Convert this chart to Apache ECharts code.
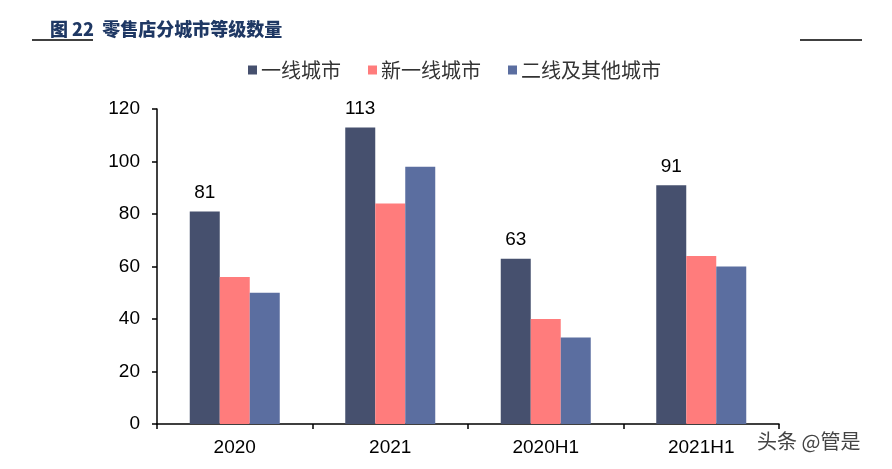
<!DOCTYPE html>
<html>
<head>
<meta charset="utf-8">
<script src="https://cdn.jsdelivr.net/npm/echarts@6/dist/echarts.min.js"></script>
<style>
html,body{margin:0;padding:0;background:#fff;}
#c{width:892px;height:469px;}
</style>
</head>
<body>
<div id="c"></div>
<script>
const categories = ['2020', '2021', '2020H1', '2021H1'];
const seriesNames = ['一线城市', '新一线城市', '二线及其他城市'];
const tier1 = [81, 113, 63, 91];
const newTier1 = [56, 84, 40, 64];
const tier2Other = [50, 98, 33, 60];
const yTicks = [0, 20, 40, 60, 80, 100, 120];

const colors = ['#46506e', '#ff7c7c', '#5b6ea0'];
const font = '"Liberation Sans", Arial, sans-serif';
const cjk = '"Noto Sans CJK SC", sans-serif';

const chart = echarts.init(document.getElementById('c'));
chart.setOption({
  animation: false,
  color: colors,
  title: {
    text: '图 22  零售店分城市等级数量',
    left: 45, top: 15,
    textStyle: { fontFamily: cjk, fontSize: 18, fontWeight: 900, color: '#1f3864' }
  },
  graphic: [
    { type: 'line', shape: { x1: 32, y1: 40, x2: 93, y2: 40 }, style: { stroke: '#000', lineWidth: 1.5 } },
    { type: 'line', shape: { x1: 800, y1: 40, x2: 862, y2: 40 }, style: { stroke: '#000', lineWidth: 1.5 } },
    { type: 'text', left: 757, top: 431, style: { text: '头条 @管是', fontFamily: cjk, fontSize: 20, fill: '#444' } }
  ],
  legend: {
    left: 243, top: 55,
    itemWidth: 9, itemHeight: 9, itemGap: 27,
    icon: 'rect',
    textStyle: { fontFamily: cjk, fontSize: 20, color: '#333', padding: [0, 0, 0, -1] },
    data: seriesNames
  },
  grid: { left: 157, right: 113, top: 109, bottom: 45, containLabel: false },
  xAxis: {
    type: 'category',
    data: categories,
    axisLine: { lineStyle: { color: '#000', width: 1.5 } },
    axisTick: { show: true, length: 5, inside: false, lineStyle: { color: '#000', width: 1.5 } },
    axisLabel: { fontFamily: font, fontSize: 19, color: '#000', margin: 14 }
  },
  yAxis: {
    type: 'value',
    min: 0, max: 120, interval: 20,
    axisLine: { show: true, lineStyle: { color: '#000', width: 1.5 } },
    axisTick: { show: true, length: 5, lineStyle: { color: '#000', width: 1.5 } },
    splitLine: { show: false },
    axisLabel: {
      fontFamily: font, fontSize: 19, color: '#000', margin: 17,
      formatter: v => yTicks.includes(v) ? String(v) : ''
    }
  },
  series: [
    {
      name: seriesNames[0], type: 'bar', data: tier1, barWidth: 30, barGap: '0%',
      label: { show: true, position: 'top', distance: 9, fontFamily: font, fontSize: 19, color: '#000' }
    },
    { name: seriesNames[1], type: 'bar', data: newTier1, barWidth: 30, barGap: '0%' },
    { name: seriesNames[2], type: 'bar', data: tier2Other, barWidth: 30, barGap: '0%' }
  ]
});
</script>
</body>
</html>
